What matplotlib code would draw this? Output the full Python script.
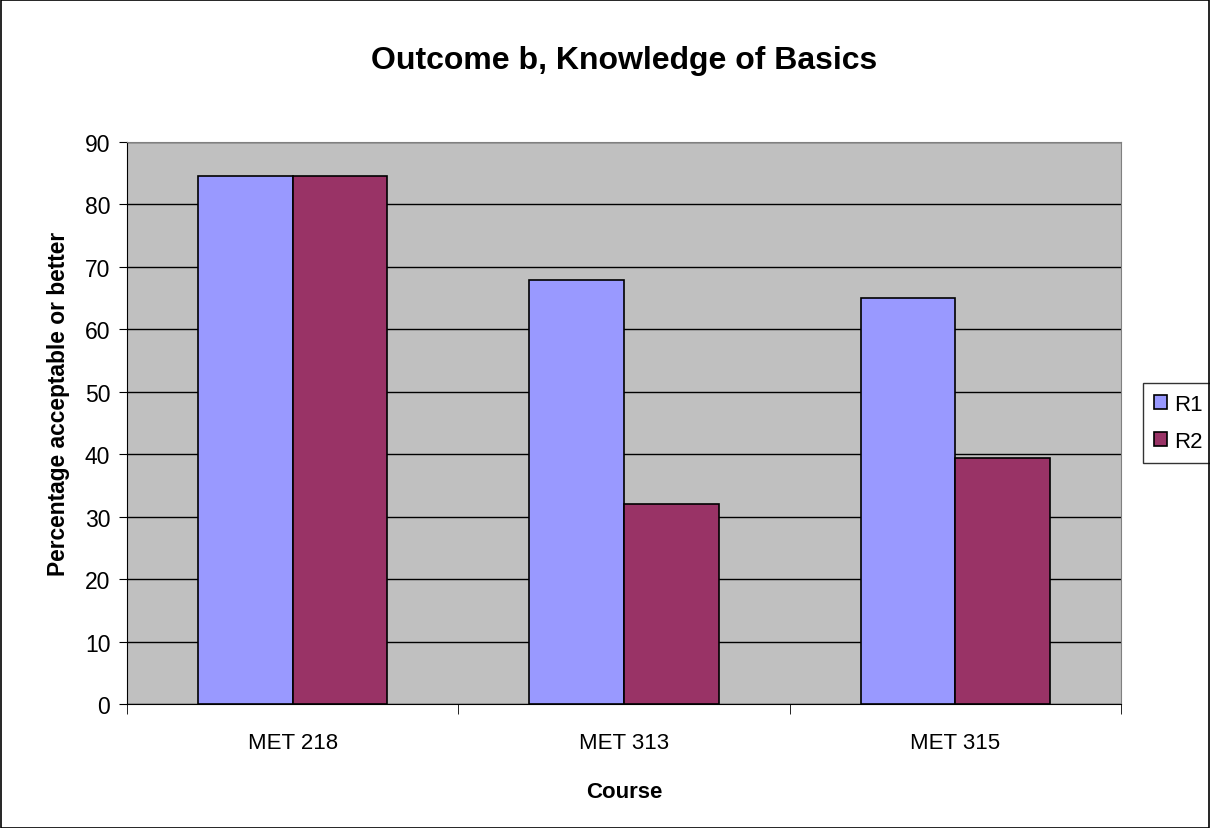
import numpy as np
import matplotlib
matplotlib.use('Agg', force=True)
import matplotlib.pyplot as plt
from matplotlib.patches import Rectangle

plt.rcParams['font.family'] = ['Liberation Sans', 'DejaVu Sans']

# -------------------------------
# Dati
# -------------------------------
courses = ["MET 218", "MET 313", "MET 315"]
r1 = [84.5, 67.9, 65.0]
r2 = [84.5, 32.0, 39.4]
series_names = ["R1", "R2"]
y_ticks = [0, 10, 20, 30, 40, 50, 60, 70, 80, 90]

# -------------------------------
# Figura
# -------------------------------
W, H = 1210, 829
fig = plt.figure(figsize=(W / 100, H / 100), dpi=100)
fig.patch.set_facecolor('white')
fig.patches.append(Rectangle((0.5 / W, 0.5 / H), 1 - 1.5 / W, 1 - 1.5 / H,
                             transform=fig.transFigure, fill=False,
                             edgecolor='black', linewidth=1.2))

left, right, top, bottom = 127, 1121, 143, 705
ax = fig.add_axes([left / W, 1 - bottom / H, (right - left) / W, (bottom - top) / H])
ax.set_facecolor('#C0C0C0')

x = np.arange(len(courses))
bw = 1 / 3.5
ax.bar(x - bw / 2, r1, width=bw, color='#9999FF', edgecolor='black', linewidth=1.2,
       label=series_names[0], zorder=3)
ax.bar(x + bw / 2, r2, width=bw, color='#993366', edgecolor='black', linewidth=1.2,
       label=series_names[1], zorder=3)

ax.set_xlim(-0.5, len(courses) - 0.5)
ax.set_ylim(0, 90)
ax.set_yticks(y_ticks)
ax.set_yticklabels([str(t) for t in y_ticks], fontsize=16.5)
ax.yaxis.grid(True, color='black', linewidth=1)
ax.set_axisbelow(True)

# categorie: etichette al centro, tacche ai bordi
ax.set_xticks(x)
ax.set_xticklabels(courses, fontsize=16)
ax.tick_params(axis='x', length=0, pad=20)
ax.set_xticks(np.arange(len(courses) + 1) - 0.5, minor=True)
ax.tick_params(axis='x', which='minor', length=7, direction='out', color='black')
ax.tick_params(axis='y', length=6, direction='out', color='black', pad=6)

for s in ['top', 'right']:
    ax.spines[s].set_color('#808080')
ax.spines['left'].set_color('black')
ax.spines['bottom'].set_color('black')

ax.set_xlabel("Course", fontsize=16, fontweight='bold', labelpad=20)
ax.set_ylabel("Percentage acceptable or better", fontsize=16.4, fontweight='bold')
ax.yaxis.set_label_coords((70 - left) / (right - left), (bottom - 404) / (bottom - top))

fig.text(0.5 * (left + right) / W, 1 - 61 / H, "Outcome b, Knowledge of Basics",
         ha='center', va='center', fontsize=23, fontweight='bold')

leg = ax.legend(loc='center left', bbox_to_anchor=(1143 / W, 1 - 424 / H),
                bbox_transform=fig.transFigure, fontsize=16, frameon=True,
                fancybox=False, edgecolor='black', handlelength=0.6,
                handleheight=0.6, handletextpad=0.3, borderpad=0.5,
                labelspacing=0.7, borderaxespad=0)
leg.get_frame().set_linewidth(1)

fig.savefig("out.png", dpi=100)
